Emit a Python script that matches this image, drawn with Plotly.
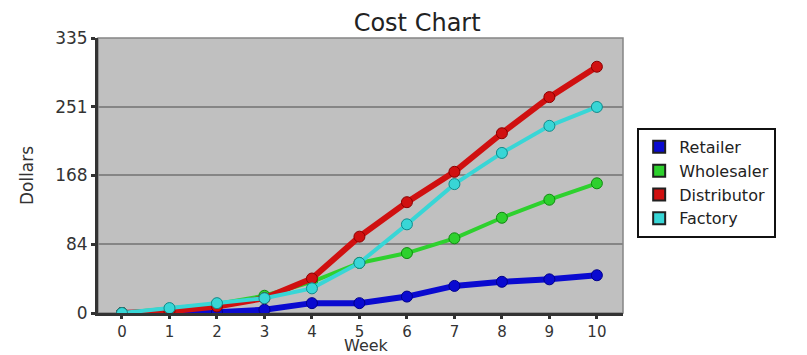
import plotly.graph_objects as go

weeks = [0, 1, 2, 3, 4, 5, 6, 7, 8, 9, 10]
retailer = [0, 0, 1, 4, 12, 12, 20, 33, 38, 41, 46]
wholesaler = [0, 5, 11, 21, 38, 61, 73, 91, 116, 138, 158]
distributor = [0, 2, 8, 18, 42, 93, 135, 172, 219, 263, 300]
factory = [0, 6, 12, 18, 30, 61, 108, 157, 195, 228, 251]
y_ticks = [0, 84, 168, 251, 335]

series = [
    ("Retailer", retailer, "#0a0ad0", "#00008a", 6),
    ("Wholesaler", wholesaler, "#2ed12e", "#0f8a0f", 4),
    ("Distributor", distributor, "#d01010", "#8a0000", 6),
    ("Factory", factory, "#38d6d6", "#108a8a", 4),
]

FONT = "DejaVu Sans, Verdana, sans-serif"

fig = go.Figure()
for name, vals, col, edge, w in series:
    fig.add_trace(go.Scatter(
        x=weeks, y=vals, mode="lines+markers", name=name, showlegend=False,
        line=dict(color=col, width=w),
        marker=dict(size=11, color=col, line=dict(color=edge, width=1)),
    ))
for name, vals, col, edge, w in series:
    fig.add_trace(go.Scatter(
        x=[None], y=[None], mode="markers", name=name,
        marker=dict(symbol="square", size=15, color=col, line=dict(color="#202020", width=1)),
    ))

fig.update_layout(
    width=807, height=355,
    margin=dict(l=90, r=192, t=30, b=50, autoexpand=False),
    paper_bgcolor="white", plot_bgcolor="#c0c0c0",
    font=dict(family=FONT, color="#222"),
    title=dict(text="Cost Chart", x=0.507, xanchor="center", y=0.96, yanchor="middle",
               font=dict(size=24, color="#222")),
    legend=dict(x=1.027, y=0.673, xanchor="left", yanchor="top",
                bordercolor="#111", borderwidth=2, bgcolor="white",
                font=dict(size=16, color="#222"), tracegroupgap=0, itemsizing="constant"),
    showlegend=True,
    annotations=[dict(text="Week", xref="paper", yref="paper", x=0.512, y=-0.119,
                      xanchor="center", yanchor="middle", showarrow=False,
                      font=dict(size=16, color="#333"))],
)
fig.update_xaxes(
    range=[-0.505, 10.55], tickvals=weeks, ticktext=[str(w) for w in weeks],
    showgrid=False, zeroline=False, automargin=False,
    showline=True, linecolor="#333", linewidth=3, mirror=False,
    ticks="outside", ticklen=3, tickwidth=3, tickcolor="#333",
    tickfont=dict(size=15, color="#333"),
)
fig.update_yaxes(
    range=[0, 335], tickvals=y_ticks, ticktext=[str(v) for v in y_ticks],
    showgrid=True, gridcolor="#858585", gridwidth=1.5, zeroline=False, automargin=True,
    showline=True, linecolor="#333", linewidth=3,
    ticks="outside", ticklen=4, tickwidth=3, tickcolor="#333",
    tickfont=dict(size=17, color="#333"),
    title=dict(text="Dollars", font=dict(size=17, color="#333"), standoff=18),
)
fig.add_shape(type="rect", xref="paper", yref="paper", x0=0, y0=0, x1=1, y1=1,
              line=dict(color="#858585", width=1.5), layer="below")

fig.write_html("out.html")
